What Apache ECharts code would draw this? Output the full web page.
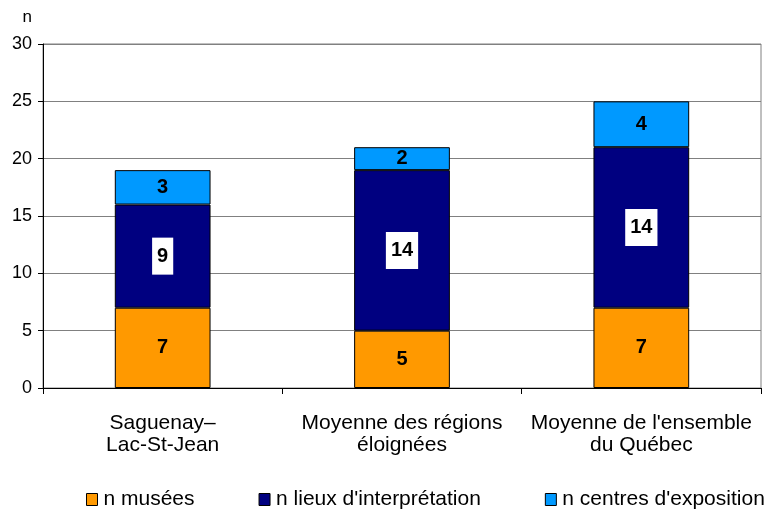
<!DOCTYPE html>
<html>
<head>
<meta charset="utf-8">
<script src="https://cdn.jsdelivr.net/npm/echarts@6/dist/echarts.min.js"></script>
<style>
  html, body { margin: 0; padding: 0; background: #fff; }
  #chart { width: 780px; height: 511px; }
</style>
</head>
<body>
<div id="chart"></div>
<script>
const categories = ['Saguenay–\nLac-St-Jean', 'Moyenne des régions\néloignées', "Moyenne de l'ensemble\ndu Québec"];
const musees = [7, 5, 7];
const lieux = [9, 14, 14];
const centres = [3, 2, 4];
const seriesNames = ['n musées', "n lieux d'interprétation", "n centres d'exposition"];

const font = 'Liberation Sans, Arial, sans-serif';
const chart = echarts.init(document.getElementById('chart'));

const baseLabel = {
    show: true,
    position: 'inside',
    color: '#000',
    fontFamily: font,
    fontWeight: 'bold',
    fontSize: 20
};

chart.setOption({
    animation: false,
    textStyle: { fontFamily: font },
    grid: {
        left: 43, right: 19, top: 44, bottom: 123,
        show: true, borderColor: '#808080', borderWidth: 1
    },
    legend: {
        left: 81, top: 484, width: 699,
        icon: 'rect',
        itemWidth: 11, itemHeight: 12,
        itemGap: 64,
        textStyle: { fontSize: 21, color: '#000', fontFamily: font, padding: [0, 0, 0, 1] },
        itemStyle: { borderColor: '#000', borderWidth: 1 },
        data: seriesNames
    },
    xAxis: {
        type: 'category',
        data: categories,
        axisLine: { lineStyle: { color: '#000' } },
        axisTick: { show: true, length: 6, lineStyle: { color: '#000' } },
        axisLabel: { interval: 0, fontSize: 21, color: '#000', lineHeight: 22, margin: 24, fontFamily: font }
    },
    yAxis: {
        type: 'value',
        min: 0, max: 30, interval: 5,
        name: 'n',
        nameLocation: 'end',
        nameGap: 18,
        nameTextStyle: { fontSize: 17, color: '#000', align: 'right', padding: [0, 11, 0, 0] },
        axisLine: { show: true, lineStyle: { color: '#000' } },
        axisTick: { show: true, length: 5, lineStyle: { color: '#000' } },
        axisLabel: { fontSize: 18, color: '#000', margin: 11, fontFamily: font },
        splitLine: { lineStyle: { color: '#808080' } }
    },
    series: [
        {
            name: seriesNames[0], type: 'bar', stack: 'total', barWidth: '40%',
            data: musees,
            itemStyle: { color: '#FF9900', borderColor: '#000', borderWidth: 1 },
            label: baseLabel
        },
        {
            name: seriesNames[1], type: 'bar', stack: 'total',
            data: lieux,
            itemStyle: { color: '#000080', borderColor: '#000', borderWidth: 1 },
            label: Object.assign({}, baseLabel, { backgroundColor: '#fff', padding: [9, 5, 8, 5] })
        },
        {
            name: seriesNames[2], type: 'bar', stack: 'total',
            data: centres,
            itemStyle: { color: '#0099FF', borderColor: '#000', borderWidth: 1 },
            label: baseLabel
        }
    ]
});
</script>
</body>
</html>
